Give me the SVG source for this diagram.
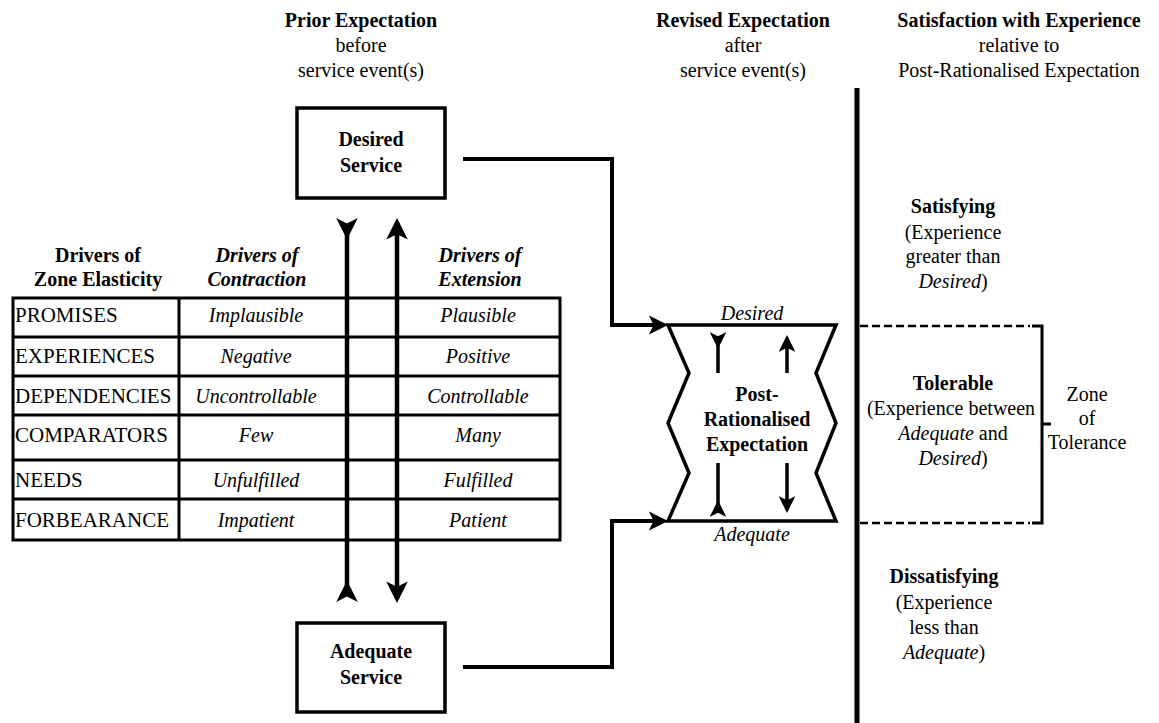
<svg xmlns="http://www.w3.org/2000/svg" width="1159" height="723" viewBox="0 0 1159 723">
  <style>
    text { font-family: "Liberation Serif", "Times New Roman", serif; font-size: 20px; fill: #000; }
    .c { text-anchor: middle; }
    .b { font-weight: bold; }
    .i { font-style: italic; }
    .row { font-size: 21px; }
    .box { fill: #fff; stroke: #000; stroke-width: 3.5; }
    .grid { fill: none; stroke: #000; stroke-width: 3; }
    .heavy { fill: none; stroke: #000; stroke-width: 4.5; }
    .conn { fill: none; stroke: #000; stroke-width: 4; stroke-linejoin: miter; }
    .thin { fill: none; stroke: #000; stroke-width: 3.5; }
    .dash { fill: none; stroke: #000; stroke-width: 2.5; stroke-dasharray: 8 4; }
    .brk { fill: none; stroke: #000; stroke-width: 3; }
  </style>
  <defs>
    <!-- pointed head, tip ahead of the line end -->
    <marker id="tipOut" viewBox="0 0 20 20" refX="16" refY="10" markerWidth="4.8" markerHeight="4.8" markerUnits="strokeWidth" orient="auto-start-reverse">
      <path d="M0,0 L20,10 L0,20 L5,10 Z" fill="#000"/>
    </marker>
    <!-- head pointing back into the line, barbs at the line end -->
    <marker id="notchIn" viewBox="0 0 20 20" refX="15" refY="10" markerWidth="4.8" markerHeight="4.8" markerUnits="strokeWidth" orient="auto-start-reverse">
      <path d="M20,0 L0,10 L20,20 L15,10 Z" fill="#000"/>
    </marker>
  </defs>

  <rect width="1159" height="723" fill="#fff"/>

  <!-- column headings -->
  <g id="heading-prior">
    <text class="c b" x="361" y="27">Prior Expectation</text>
    <text class="c" x="361" y="52">before</text>
    <text class="c" x="361" y="77">service event(s)</text>
  </g>
  <g id="heading-revised">
    <text class="c b" x="743" y="27">Revised Expectation</text>
    <text class="c" x="743" y="52">after</text>
    <text class="c" x="743" y="77">service event(s)</text>
  </g>
  <g id="heading-satisfaction">
    <text class="c b" x="1019" y="27">Satisfaction with Experience</text>
    <text class="c" x="1019" y="52">relative to</text>
    <text class="c" x="1019" y="77">Post-Rationalised Expectation</text>
  </g>

  <!-- drivers table -->
  <g id="drivers-table">
    <text class="c b" x="98" y="262">Drivers of</text>
    <text class="c b" x="98" y="286">Zone Elasticity</text>
    <text class="c b i" x="257" y="262">Drivers of</text>
    <text class="c b i" x="257" y="286">Contraction</text>
    <text class="c b i" x="480" y="262">Drivers of</text>
    <text class="c b i" x="480" y="286">Extension</text>
    <rect class="grid" x="13" y="298" width="547" height="242"/>
    <path class="grid" d="M13,337 H560 M13,376 H560 M13,415 H560 M13,460 H560 M13,499 H560 M179,298 V540"/>
    <text class="row" x="15" y="322">PROMISES</text>
    <text class="row" x="15" y="363">EXPERIENCES</text>
    <text class="row" x="15" y="403">DEPENDENCIES</text>
    <text class="row" x="15" y="442">COMPARATORS</text>
    <text class="row" x="15" y="487">NEEDS</text>
    <text class="row" x="15" y="527">FORBEARANCE</text>
    <text class="c i" x="256" y="322">Implausible</text>
    <text class="c i" x="256" y="363">Negative</text>
    <text class="c i" x="256" y="403">Uncontrollable</text>
    <text class="c i" x="256" y="442">Few</text>
    <text class="c i" x="256" y="487">Unfulfilled</text>
    <text class="c i" x="256" y="527">Impatient</text>
    <text class="c i" x="478" y="322">Plausible</text>
    <text class="c i" x="478" y="363">Positive</text>
    <text class="c i" x="478" y="403">Controllable</text>
    <text class="c i" x="478" y="442">Many</text>
    <text class="c i" x="478" y="487">Fulfilled</text>
    <text class="c i" x="478" y="527">Patient</text>
  </g>

  <!-- service level boxes -->
  <g id="desired-service">
    <rect class="box" x="297" y="108" width="148" height="90"/>
    <text class="c b" x="371" y="146">Desired</text>
    <text class="c b" x="371" y="172">Service</text>
  </g>
  <g id="adequate-service">
    <rect class="box" x="297" y="623" width="148" height="89"/>
    <text class="c b" x="371" y="658">Adequate</text>
    <text class="c b" x="371" y="684">Service</text>
  </g>

  <!-- revised expectation band -->
  <g id="post-rationalised">
    <path class="thin" d="M668,325 H836 L816,373 L836,423 L816,473 L836,521 H668 L689,473 L668,423 L689,373 Z"/>
    <text class="c i" x="752" y="320">Desired</text>
    <text class="c i" x="752" y="541">Adequate</text>
    <text class="c b" x="757" y="401">Post-</text>
    <text class="c b" x="757" y="426">Rationalised</text>
    <text class="c b" x="757" y="451">Expectation</text>
    <path class="thin" d="M718,336.2 V373" marker-start="url(#notchIn)"/>
    <path class="thin" d="M718,463 V512.8" marker-end="url(#notchIn)"/>
    <path class="thin" d="M787,373 V338.4" marker-end="url(#tipOut)"/>
    <path class="thin" d="M787,463 V509.6" marker-end="url(#tipOut)"/>
  </g>

  <!-- satisfaction zones -->
  <g id="satisfying">
    <text class="c b" x="953" y="213">Satisfying</text>
    <text class="c" x="953" y="239">(Experience</text>
    <text class="c" x="953" y="263">greater than</text>
    <text class="c" x="953" y="288"><tspan class="i">Desired</tspan>)</text>
  </g>
  <g id="tolerable">
    <text class="c b" x="953" y="390">Tolerable</text>
    <text class="c" x="951" y="415">(Experience between</text>
    <text class="c" x="953" y="440"><tspan class="i">Adequate</tspan> and</text>
    <text class="c" x="953" y="465"><tspan class="i">Desired</tspan>)</text>
  </g>
  <g id="dissatisfying">
    <text class="c b" x="944" y="583">Dissatisfying</text>
    <text class="c" x="944" y="609">(Experience</text>
    <text class="c" x="944" y="634">less than</text>
    <text class="c" x="944" y="659"><tspan class="i">Adequate</tspan>)</text>
  </g>
  <g id="zone-of-tolerance">
    <path class="brk" d="M1032,326 H1042 V523 H1032 M1042,424 H1051"/>
    <text class="c" x="1087" y="401">Zone</text>
    <text class="c" x="1087" y="425">of</text>
    <text class="c" x="1087" y="449">Tolerance</text>
  </g>

  <!-- connectors -->
  <g id="connectors">
    <path class="heavy" d="M347,223.4 V596.6" marker-start="url(#notchIn)" marker-end="url(#notchIn)"/>
    <path class="heavy" d="M397,222.3 V598.7" marker-start="url(#tipOut)" marker-end="url(#tipOut)"/>
    <path class="conn" d="M463,159 H612 V325 H664.2" marker-end="url(#tipOut)"/>
    <path class="conn" d="M463,667 H612 V521 H664.2" marker-end="url(#tipOut)"/>
    <path d="M857,88 V723" fill="none" stroke="#000" stroke-width="5"/>
    <path class="dash" d="M860,326 H1030"/>
    <path class="dash" d="M860,523 H1030"/>
  </g>
</svg>
